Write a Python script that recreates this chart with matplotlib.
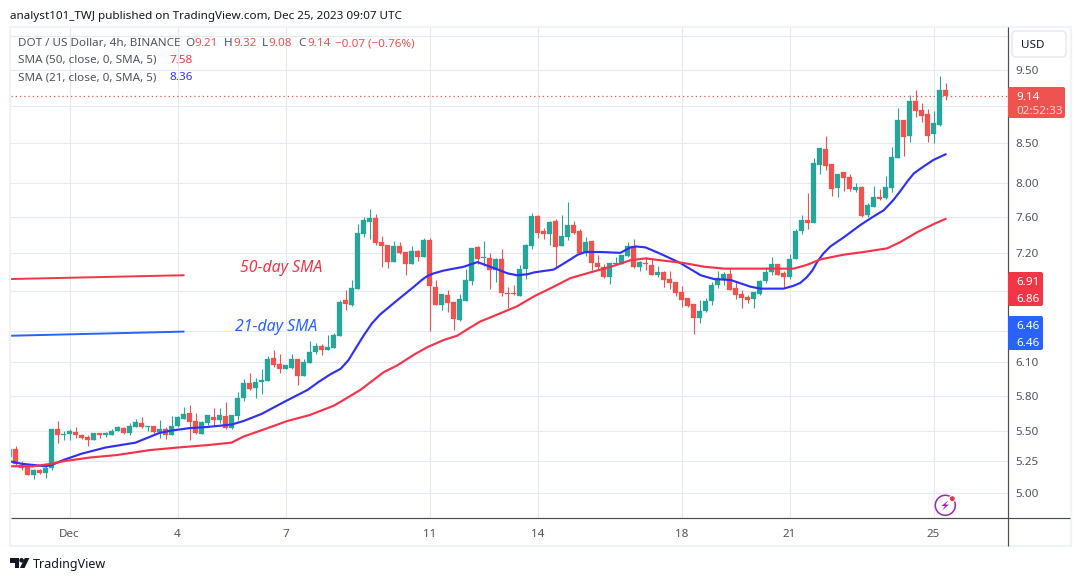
import matplotlib
matplotlib.use("Agg")
import matplotlib.pyplot as plt
from matplotlib.ticker import NullLocator
import numpy as np
from matplotlib.lines import Line2D
from matplotlib.patches import Rectangle, FancyBboxPatch, Circle, Polygon, Arc
from matplotlib.transforms import Affine2D

# 4h candles, oldest first; the first one sits partly behind the left edge
opens = [
    5.28, 5.35, 5.22, 5.21, 5.14, 5.18, 5.16, 5.20, 5.51, 5.46,
    5.47, 5.49, 5.46, 5.45, 5.42, 5.48, 5.46, 5.46, 5.50, 5.52,
    5.48, 5.53, 5.56, 5.53, 5.54, 5.49, 5.51, 5.46, 5.54, 5.60,
    5.65, 5.58, 5.47, 5.56, 5.61, 5.59, 5.62, 5.52, 5.62, 5.78,
    5.91, 5.87, 5.92, 5.93, 6.14, 6.08, 6.04, 6.05, 6.13, 5.97,
    6.09, 6.20, 6.25, 6.21, 6.23, 6.35, 6.70, 6.65, 6.82, 7.41,
    7.55, 7.59, 7.32, 7.29, 7.10, 7.27, 7.21, 7.08, 7.22, 7.16,
    7.34, 6.84, 6.65, 6.75, 6.68, 6.50, 6.69, 6.90, 7.26, 7.14,
    7.14, 7.02, 7.13, 6.77, 6.77, 6.74, 7.03, 7.28, 7.61, 7.44,
    7.41, 7.56, 7.28, 7.38, 7.51, 7.44, 7.20, 7.33, 7.09, 7.05,
    6.94, 7.08, 7.08, 7.17, 7.28, 7.05, 7.09, 7.07, 6.96, 6.99,
    6.92, 6.89, 6.79, 6.72, 6.66, 6.52, 6.59, 6.69, 6.86, 6.92,
    6.97, 6.83, 6.76, 6.73, 6.71, 6.76, 6.90, 6.99, 7.08, 6.98,
    6.94, 7.13, 7.44, 7.57, 7.53, 8.22, 8.43, 8.24, 7.94, 8.14,
    8.08, 7.92, 7.96, 7.62, 7.72, 7.84, 7.83, 7.94, 8.31, 8.81,
    8.59, 9.06, 8.94, 8.89, 8.62, 8.74, 9.21,
]
highs = [
    5.37, 5.37, 5.25, 5.22, 5.19, 5.19, 5.23, 5.51, 5.58, 5.50,
    5.51, 5.53, 5.47, 5.46, 5.48, 5.48, 5.49, 5.51, 5.54, 5.53,
    5.56, 5.60, 5.61, 5.54, 5.54, 5.59, 5.53, 5.62, 5.62, 5.70,
    5.72, 5.65, 5.58, 5.63, 5.69, 5.69, 5.74, 5.63, 5.83, 5.95,
    6.00, 5.96, 6.04, 6.16, 6.21, 6.18, 6.07, 6.18, 6.13, 6.13,
    6.30, 6.28, 6.27, 6.36, 6.38, 6.70, 6.81, 6.91, 7.52, 7.60,
    7.70, 7.64, 7.39, 7.29, 7.33, 7.32, 7.21, 7.28, 7.23, 7.36,
    7.36, 6.91, 6.76, 6.81, 6.68, 6.76, 7.03, 7.25, 7.28, 7.33,
    7.20, 7.14, 7.24, 6.84, 6.86, 7.07, 7.30, 7.65, 7.63, 7.48,
    7.56, 7.58, 7.62, 7.78, 7.56, 7.46, 7.37, 7.33, 7.18, 7.08,
    7.09, 7.16, 7.18, 7.32, 7.35, 7.11, 7.16, 7.14, 7.06, 7.00,
    7.00, 6.89, 6.85, 6.72, 6.66, 6.70, 6.72, 6.89, 7.00, 6.99,
    7.03, 6.89, 6.81, 6.75, 6.79, 6.91, 7.05, 7.16, 7.08, 7.00,
    7.19, 7.47, 7.63, 7.88, 8.32, 8.44, 8.59, 8.24, 8.12, 8.14,
    8.12, 8.01, 7.97, 7.76, 7.97, 7.93, 8.09, 8.45, 8.97, 8.81,
    9.15, 9.22, 9.03, 8.96, 8.93, 9.41, 9.32,
]
lows = [
    5.27, 5.21, 5.18, 5.14, 5.11, 5.15, 5.12, 5.18, 5.40, 5.42,
    5.42, 5.44, 5.43, 5.37, 5.42, 5.44, 5.45, 5.46, 5.50, 5.47,
    5.46, 5.53, 5.52, 5.50, 5.47, 5.44, 5.43, 5.46, 5.53, 5.60,
    5.42, 5.47, 5.47, 5.55, 5.54, 5.56, 5.51, 5.51, 5.59, 5.75,
    5.85, 5.78, 5.81, 5.93, 6.06, 6.00, 6.04, 6.04, 5.89, 5.97,
    6.09, 6.18, 6.17, 6.21, 6.23, 6.35, 6.60, 6.64, 6.82, 7.37,
    7.35, 7.29, 7.05, 7.04, 7.10, 7.19, 6.96, 7.08, 7.11, 7.16,
    6.40, 6.65, 6.60, 6.58, 6.41, 6.49, 6.69, 6.86, 7.08, 7.06,
    6.82, 6.89, 6.74, 6.62, 6.75, 6.74, 6.92, 7.24, 7.36, 7.35,
    7.29, 7.05, 7.27, 7.34, 7.41, 7.20, 7.17, 7.02, 7.02, 6.93,
    6.87, 7.08, 7.08, 7.15, 7.04, 7.01, 7.02, 6.96, 6.94, 6.84,
    6.82, 6.74, 6.63, 6.63, 6.37, 6.47, 6.58, 6.65, 6.83, 6.86,
    6.81, 6.71, 6.62, 6.67, 6.62, 6.75, 6.88, 6.96, 6.96, 6.83,
    6.92, 7.13, 7.41, 7.47, 7.53, 8.12, 8.17, 7.85, 7.84, 7.91,
    7.91, 7.90, 7.60, 7.60, 7.72, 7.80, 7.81, 7.90, 8.31, 8.34,
    8.52, 8.85, 8.78, 8.52, 8.51, 8.73, 9.08,
]
closes = [
    5.35, 5.23, 5.20, 5.14, 5.18, 5.16, 5.20, 5.51, 5.46, 5.47,
    5.50, 5.46, 5.44, 5.42, 5.48, 5.46, 5.48, 5.50, 5.53, 5.48,
    5.54, 5.57, 5.53, 5.54, 5.49, 5.51, 5.46, 5.54, 5.61, 5.64,
    5.57, 5.48, 5.57, 5.63, 5.59, 5.63, 5.52, 5.63, 5.78, 5.91,
    5.86, 5.92, 5.94, 6.13, 6.07, 6.04, 6.07, 6.13, 5.97, 6.10,
    6.20, 6.25, 6.21, 6.24, 6.36, 6.68, 6.66, 6.83, 7.42, 7.57,
    7.59, 7.31, 7.27, 7.10, 7.27, 7.20, 7.08, 7.22, 7.16, 7.34,
    6.85, 6.65, 6.76, 6.67, 6.51, 6.71, 6.91, 7.25, 7.13, 7.15,
    7.02, 7.13, 6.77, 6.76, 6.76, 7.03, 7.29, 7.61, 7.42, 7.41,
    7.54, 7.26, 7.39, 7.51, 7.42, 7.20, 7.32, 7.09, 7.05, 6.94,
    7.09, 7.09, 7.18, 7.28, 7.05, 7.10, 7.08, 6.96, 6.99, 6.91,
    6.88, 6.77, 6.70, 6.64, 6.52, 6.59, 6.69, 6.86, 6.93, 6.97,
    6.81, 6.75, 6.72, 6.70, 6.79, 6.90, 6.99, 7.08, 6.96, 6.94,
    7.13, 7.44, 7.57, 7.53, 8.25, 8.44, 8.21, 7.93, 8.12, 8.07,
    7.93, 7.96, 7.61, 7.74, 7.84, 7.81, 7.96, 8.33, 8.81, 8.58,
    9.06, 8.93, 8.86, 8.60, 8.77, 9.21, 9.14,
]
first_candle = -1

# moving averages, read at candle positions
sma21_pos = [-1, 1, 3, 5, 6, 8, 11, 15, 20, 24, 26, 29, 32, 36, 38, 41, 45, 48.7, 50.5, 52.5,
             54.2, 55.5, 56.7, 58, 59.4, 60.8, 63.6, 66.4, 67.7, 68.6, 69.7, 71.4, 74.7, 77,
             80, 82, 83.6, 85.3, 86.4, 89.7, 91, 92.5, 93.7, 95, 97.5, 100.8, 102.5, 103.5,
             105, 107.5, 110.8, 114.2, 116.4, 119.2, 122.5, 124.2, 128, 129.7, 130.8, 131.9,
             132.8, 133.6, 134.6, 135.8, 138, 140.8, 142.8, 144.7, 146.3, 147.5, 148.6,
             149.7, 150.8, 153, 155]
sma21_val = [5.25, 5.23, 5.22, 5.21, 5.22, 5.26, 5.31, 5.36, 5.40, 5.48, 5.50, 5.52, 5.53,
             5.55, 5.58, 5.64, 5.75, 5.85, 5.92, 5.99, 6.04, 6.12, 6.23, 6.35, 6.47, 6.56,
             6.70, 6.84, 6.91, 6.95, 6.98, 7.01, 7.05, 7.10, 7.03, 6.98, 6.96, 6.97, 6.99,
             7.02, 7.07, 7.13, 7.18, 7.21, 7.21, 7.20, 7.26, 7.27, 7.26, 7.19, 7.09, 6.96,
             6.92, 6.91, 6.84, 6.82, 6.82, 6.85, 6.88, 6.94, 7.01, 7.10, 7.19, 7.27, 7.37,
             7.51, 7.60, 7.68, 7.80, 7.91, 8.02, 8.12, 8.18, 8.29, 8.36]
sma50_pos = [-1, 3, 6, 8, 12.5, 17, 22.5, 27, 32, 36, 38, 42, 45.3, 49, 53, 54, 57.5, 59.7,
             61.4, 63.6, 66.4, 68.6, 71.4, 73.6, 75.8, 77.5, 79.2, 83.6, 86.4, 89.7, 92.5,
             95.8, 99.2, 102.5, 105, 107.5, 111.4, 114.8, 118.2, 121.5, 125.8, 129.7, 131.9,
             134.2, 138, 141.4, 145.3, 147.5, 150.3, 153, 155]
sma50_val = [5.21, 5.21, 5.23, 5.25, 5.28, 5.30, 5.34, 5.36, 5.38, 5.40, 5.45, 5.52, 5.58,
             5.63, 5.71, 5.74, 5.85, 5.94, 6.01, 6.07, 6.17, 6.24, 6.31, 6.35, 6.43, 6.49,
             6.53, 6.64, 6.74, 6.84, 6.93, 6.99, 7.05, 7.12, 7.14, 7.12, 7.09, 7.05, 7.03,
             7.03, 7.03, 7.03, 7.07, 7.13, 7.18, 7.21, 7.25, 7.32, 7.43, 7.52, 7.58]

# hand-drawn reference lines with their captions
note_pos = [-0.8, 28]
note_50 = [6.92, 6.96]
note_21 = [6.35, 6.39]

price_ticks = [10.0, 9.5, 9.0, 8.5, 8.0, 7.6, 7.2, 6.8, 6.4, 6.1, 5.8, 5.5, 5.25, 5.0]
price_labels = ["", "9.50", "", "8.50", "8.00", "7.60", "7.20", "", "", "6.10", "5.80", "5.50", "5.25", "5.00"]
date_ticks = [9, 27, 45, 69, 87, 111, 129, 153]
date_labels = ["Dec", "4", "7", "11", "14", "18", "21", "25"]
last_close = 9.14

UP = "#26A69A"
DOWN = "#EF5350"
RED = "#F23645"
BLUE = "#2962FF"
SMA_BLUE = "#3030F5"
SMA_RED = "#F7334B"
GRID = "#E4EAF1"
TEXT = "#50535E"
AXIS = "#4A4C57"
FONT = "Noto Sans"

plt.rcParams["font.family"] = [FONT, "DejaVu Sans"]

W, H = 1080, 581
fig = plt.figure(figsize=(W / 100, H / 100), dpi=100, facecolor="white")
# pixel coordinates on the figure, y growing downwards
PX = Affine2D().scale(1, -1).translate(0, H)

L, R, T, B = 10.5, 1008, 28, 518
ax = fig.add_axes([L / W, 1 - B / H, (R - L) / W, (B - T) / H])
ax.set_yscale("log")
ax.set_xlim((L - 15.5) / 6, (R - 15.5) / 6)
ax.set_ylim(4.817, 10.125)
ax.yaxis.tick_right()
ax.set_yticks(price_ticks)
ax.set_yticklabels(price_labels, color=TEXT, fontsize=8.4)
ax.yaxis.set_minor_locator(NullLocator())
ax.set_xticks(date_ticks)
ax.set_xticklabels(date_labels, color=TEXT, fontsize=8.4)
ax.tick_params(axis="both", length=0, which="both")
ax.tick_params(axis="y", pad=5.4)
ax.tick_params(axis="x", pad=7.6)
ax.grid(True, color=GRID, linewidth=0.8)
ax.set_axisbelow(True)
for side in ax.spines.values():
    side.set_visible(False)

# candles
pos = np.arange(len(opens)) + first_candle
o, h, l, c = map(np.array, (opens, highs, lows, closes))
colors = np.where(c >= o, UP, DOWN)
ax.vlines(pos, l, h, colors=colors, linewidth=0.8, zorder=3)
ax.bar(pos, np.abs(c - o), bottom=np.minimum(o, c), width=5 / 6, color=colors,
       edgecolor=colors, linewidth=0.2, zorder=3)

# last price line
ax.axhline(last_close, color=DOWN, linewidth=0.9, linestyle=(0, (1, 2.4)), zorder=2)

# moving averages
ax.plot(sma21_pos, sma21_val, color=SMA_BLUE, linewidth=1.55, zorder=4, solid_joinstyle="round")
ax.plot(sma50_pos, sma50_val, color=SMA_RED, linewidth=1.55, zorder=4, solid_joinstyle="round")

# reference lines
ax.plot(note_pos, note_50, color=RED, linewidth=1.4, zorder=4)
ax.plot(note_pos, note_21, color=BLUE, linewidth=1.4, zorder=4)
ax.text(37.4, 7.04, "50-day SMA", color=RED, style="italic", fontsize=11.4, ha="left", va="center", zorder=5)
ax.text(36.6, 6.43, "21-day SMA", color=BLUE, style="italic", fontsize=11.4, ha="left", va="center", zorder=5)


def px_text(x, y, s, color=TEXT, size=8.4, ha="left", **kw):
    # y is the text baseline
    return fig.text(x, y, s, transform=PX, color=color, fontsize=size, ha=ha, va="baseline", zorder=8, **kw)


def px_line(xs, ys, color, lw):
    fig.add_artist(Line2D(xs, ys, transform=PX, color=color, linewidth=lw, solid_capstyle="butt"))


def px_box(x0, y0, x1, y1, color):
    fig.add_artist(FancyBboxPatch((x0 + 2, y0 + 2), x1 - x0 - 4, y1 - y0 - 4,
                                  boxstyle="round,pad=2,rounding_size=2", transform=PX,
                                  facecolor=color, edgecolor="none", zorder=6))


# outer frame and axis lines
fig.add_artist(Rectangle((9.5, 27), 1061, 519, transform=PX, fill=False, edgecolor="#F0F3FA",
                         linewidth=1.6))
px_line([R, R], [T - 1, 546], AXIS, 0.85)
px_line([L, 1070], [B, B], AXIS, 0.85)

# header lines
px_text(10, 19, "analyst101_TWJ published on TradingView.com, Dec 25, 2023 09:07 UTC",
        color="#131722", size=8.4)
px_text(18, 46, "DOT / US Dollar, 4h, BINANCE")
for x, label, value in [(185, "O", "9.21"), (224, "H", "9.32"), (262, "L", "9.08"), (298, "C", "9.14")]:
    px_text(x, 46, label)
    px_text(x + 9 if label != "L" else x + 6, 46, value, color=DOWN)
px_text(335, 46, "\u22120.07 (\u22120.76%)", color=DOWN)
px_text(18, 63, "SMA (50, close, 0, SMA, 5)")
px_text(169, 63, "7.58", color=RED)
px_text(18, 80, "SMA (21, close, 0, SMA, 5)")
px_text(169, 80, "8.36", color="#3535F0")

# currency button
fig.add_artist(FancyBboxPatch((1016, 35), 46, 18, boxstyle="round,pad=4,rounding_size=4", transform=PX,
                              facecolor="white", edgecolor="#E4E7F0", linewidth=1))
px_text(1021, 48.5, "USD", color="#131722")

# price tags on the scale
px_box(1008, 87, 1065, 118, DOWN)
px_text(1016, 100, "9.14", color="white")
px_text(1016, 113.5, "02:52:33", color="#FBD5D4")
px_box(1008, 272, 1043, 306, RED)
px_text(1016, 285, "6.91", color="white")
px_text(1016, 301.7, "6.86", color="white")
px_box(1008, 316, 1043, 350, BLUE)
px_text(1016, 329, "6.46", color="white")
px_text(1016, 346, "6.46", color="white")

# alert badge
fig.add_artist(Arc((945.3, 505.3), 20, 20, transform=PX, color="#9C27B0", linewidth=1.1))
fig.add_artist(Polygon([(948.3, 500.5), (941.5, 506), (945, 506), (942.3, 510.3), (949, 504.5), (945.5, 504.5)],
                       closed=True, transform=PX, facecolor="#9C27B0", edgecolor="none"))
fig.add_artist(Circle((952.3, 498.7), 3.6, transform=PX, facecolor="white", edgecolor="none"))
fig.add_artist(Circle((952.3, 498.7), 2.5, transform=PX, facecolor=RED, edgecolor="none"))

# TradingView mark
MARK = "#131722"
fig.add_artist(Polygon([(10, 558), (19.3, 558), (19.3, 568), (14.6, 568), (14.6, 562.6), (10, 562.6)],
                       closed=True, transform=PX, facecolor=MARK, edgecolor="none"))
fig.add_artist(Circle((21.6, 560.3), 2.3, transform=PX, facecolor=MARK, edgecolor="none"))
fig.add_artist(Polygon([(24.8, 558), (29.4, 558), (24.6, 568), (19.9, 568)],
                       closed=True, transform=PX, facecolor=MARK, edgecolor="none"))
px_text(33, 568, "TradingView", color="#131722", size=9.0)

fig.savefig("out.png", dpi=100, facecolor="white")
